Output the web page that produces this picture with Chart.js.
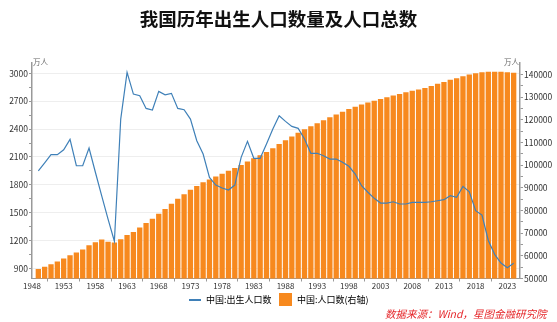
<!DOCTYPE html>
<html><head><meta charset="utf-8">
<script src="https://cdn.jsdelivr.net/npm/chart.js@4.4.1/dist/chart.umd.min.js"></script>
<style>html,body{margin:0;padding:0;background:#fff;}#wrap{width:557px;height:322px;position:relative;}</style>
</head><body><div id="wrap"><canvas id="c" width="557" height="322"></canvas></div>
<script>
const years = [1949,1950,1951,1952,1953,1954,1955,1956,1957,1958,1959,1960,1961,1962,1963,1964,1965,1966,1967,1968,1969,1970,1971,1972,1973,1974,1975,1976,1977,1978,1979,1980,1981,1982,1983,1984,1985,1986,1987,1988,1989,1990,1991,1992,1993,1994,1995,1996,1997,1998,1999,2000,2001,2002,2003,2004,2005,2006,2007,2008,2009,2010,2011,2012,2013,2014,2015,2016,2017,2018,2019,2020,2021,2022,2023,2024];
const births = [1951,2037,2124,2124,2177,2289,2005,2005,2196,1935,1680,1430,1191,2508,3011,2777,2759,2623,2605,2806,2770,2785,2623,2608,2508,2274,2131,1880,1797,1765,1743,1797,2095,2268,2085,2085,2240,2400,2544,2483,2429,2408,2293,2139,2139,2113,2077,2077,2042,1999,1916,1790,1719,1654,1603,1603,1617,1593,1593,1611,1611,1611,1617,1628,1639,1682,1664,1783,1725,1521,1474,1200,1050,956,905,954];
const population = [54167,55196,56300,57482,58796,60266,61465,62828,64653,65994,67207,66207,65859,67295,69172,70499,72538,74542,76368,78534,80671,82992,85229,87177,89211,90859,92420,93717,94974,96259,97542,98705,100072,101654,103008,104357,105851,107507,109300,111026,112704,114333,115823,117171,118517,119850,121121,122389,123626,124761,125786,126743,127627,128453,129227,129988,130756,131448,132129,132802,133450,134091,134916,135922,136726,137646,138326,139232,140011,140541,141008,141212,141260,141175,140967,140828];
const xTickYears = [1948,1953,1958,1963,1968,1973,1978,1983,1988,1993,1998,2003,2008,2013,2018,2023];
const leftTicks = [900,1050,1200,1350,1500,1650,1800,1950,2100,2250,2400,2550,2700,2850,3000];
const rightTicks = [50000,55000,60000,65000,70000,75000,80000,85000,90000,95000,100000,105000,110000,115000,120000,125000,130000,135000,140000];
const seriesNames = ['中国:出生人口数','中国:人口数(右轴)'];
const unitLabel = '万人';
const titleText = '我国历年出生人口数量及人口总数';
const sourceText = '数据来源：Wind，星图金融研究院';

const LINE_COLOR = '#3f80b8';
const BAR_COLOR = '#f7891e';

Chart.defaults.font.family = "'Noto Sans CJK SC','Open Sans',sans-serif";
Chart.defaults.color = '#333';

function makeSwatch(w, h, color) {
  const cv = document.createElement('canvas');
  cv.width = w; cv.height = h;
  const c = cv.getContext('2d');
  c.fillStyle = color; c.fillRect(0, 0, w, h);
  return cv;
}
const lineSwatch = makeSwatch(12, 2, LINE_COLOR);
const barSwatch = makeSwatch(13, 13, BAR_COLOR);

const unitPlugin = {
  id: 'units',
  afterDraw(chart) {
    const ctx = chart.ctx, a = chart.chartArea;
    ctx.save();
    ctx.font = "7.5px 'Noto Sans CJK SC',sans-serif";
    ctx.fillStyle = '#666';
    ctx.textBaseline = 'middle';
    ctx.textAlign = 'left';
    ctx.fillText(unitLabel, a.left + 1, a.top - 1);
    ctx.textAlign = 'right';
    ctx.fillText(unitLabel, a.right - 1, a.top - 1);
    ctx.restore();
  }
};

new Chart(document.getElementById('c'), {
  data: {
    datasets: [
      {
        type: 'line', label: seriesNames[0],
        data: years.map((y, i) => ({x: y, y: births[i]})),
        yAxisID: 'yL', borderColor: LINE_COLOR, backgroundColor: LINE_COLOR,
        borderWidth: 1.2, pointRadius: 0, tension: 0
      },
      {
        type: 'bar', label: seriesNames[1],
        data: years.map((y, i) => ({x: y, y: population[i]})),
        yAxisID: 'yR', backgroundColor: BAR_COLOR, borderWidth: 0,
        barPercentage: 0.84, categoryPercentage: 1
      }
    ]
  },
  options: {
    responsive: false, animation: false,
    layout: {padding: {left: 0, right: 0, top: 0, bottom: 0}},
    plugins: {
      title: {display: true, text: titleText, color: '#111',
        font: {size: 18.5, weight: 'bold'}, padding: {top: 8, bottom: 33}},
      subtitle: {display: true, position: 'bottom', align: 'end', text: sourceText + '\u3000',
        color: '#e5262a', font: {size: 10.5, style: 'italic'}, padding: {top: -6.7, bottom: 2}},
      legend: {position: 'bottom',
        labels: {usePointStyle: true, pointStyleWidth: 13, padding: 4,
          font: {size: 9}, color: '#333',
          generateLabels(chart) {
            return chart.data.datasets.map((d, i) => ({
              text: d.label + (i === 0 ? '  ' : ''), datasetIndex: i,
              fillStyle: d.type === 'bar' ? BAR_COLOR : LINE_COLOR,
              strokeStyle: d.type === 'bar' ? BAR_COLOR : LINE_COLOR,
              lineWidth: 0,
              pointStyle: d.type === 'bar' ? barSwatch : lineSwatch, hidden: false
            }));
          }}},
      tooltip: {enabled: false}
    },
    scales: {
      x: {
        type: 'linear', min: 1948, max: 2025, offset: false,
        afterBuildTicks(s) { s.ticks = xTickYears.map(v => ({value: v})); },
        afterFit(s) { s.height = 12.6; },
        ticks: {callback: v => String(v), font: {size: 8}, color: '#333', padding: 0, maxRotation: 0, autoSkip: false},
        grid: {drawOnChartArea: false, tickLength: 3, tickColor: '#999'},
        border: {color: '#999', width: 1}
      },
      yL: {
        position: 'left', min: 790, max: 3110,
        afterBuildTicks(s) { s.ticks = leftTicks.map(v => ({value: v})); },
        afterFit(s) { s.width = 32; },
        ticks: {callback: v => (v % 300 === 0 ? String(v) : ''), font: {size: 8.5}, color: '#333', padding: 1, autoSkip: false},
        grid: {color: c => (c.tick && c.tick.value % 300 === 0 ? '#eeeeee' : 'rgba(0,0,0,0)'), tickColor: '#999', tickLength: 3},
        border: {color: '#999', width: 1.5}
      },
      yR: {
        position: 'right', min: 50000, max: 145000,
        afterBuildTicks(s) { s.ticks = rightTicks.map(v => ({value: v})); },
        afterFit(s) { s.width = 37; },
        ticks: {callback: v => (v % 10000 === 0 ? String(v) : ''), font: {size: 8.5}, color: '#333', padding: 1, autoSkip: false},
        grid: {drawOnChartArea: false, tickColor: '#999', tickLength: 3},
        border: {color: '#999', width: 1.5}
      }
    }
  },
  plugins: [unitPlugin]
});
</script>
</body></html>
